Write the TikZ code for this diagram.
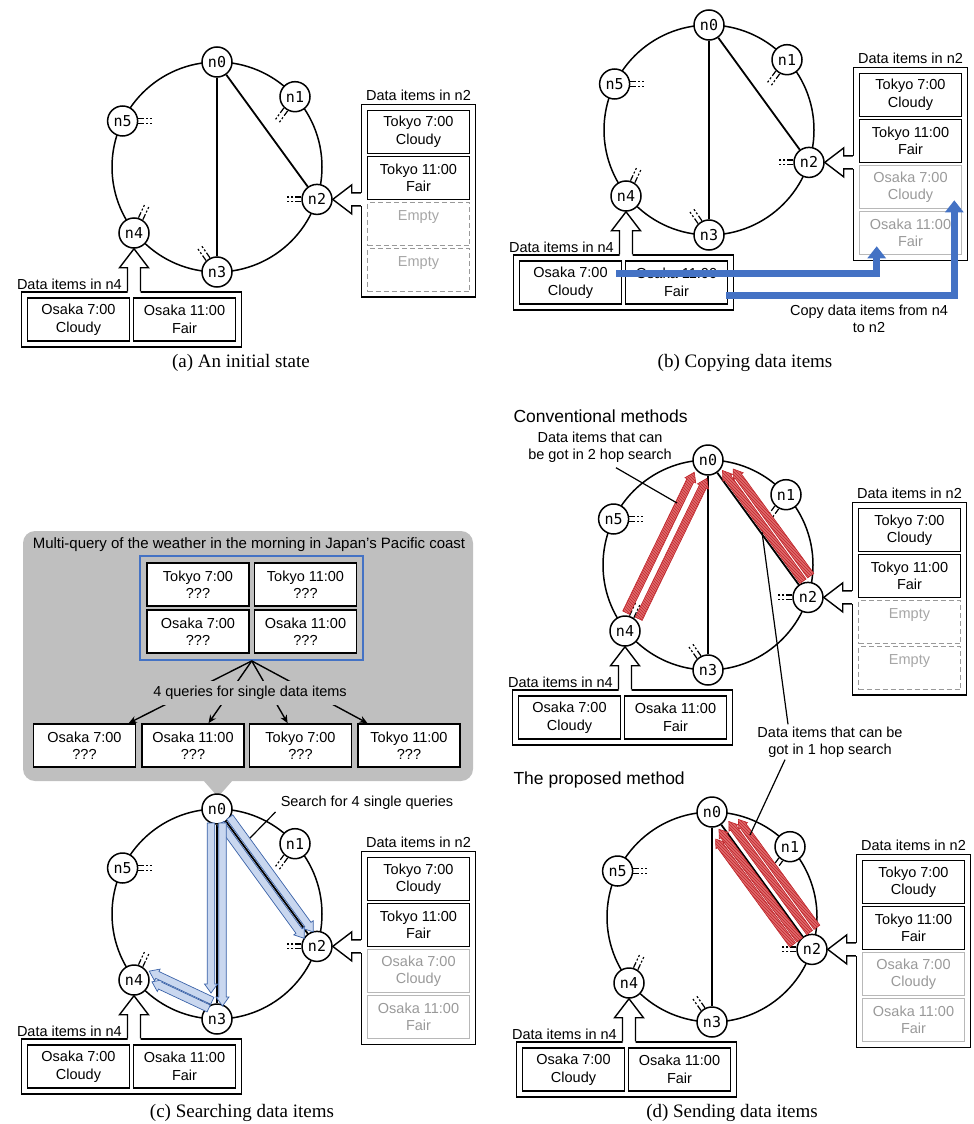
\documentclass[tikz,border=0pt]{standalone}
\usepackage{fontspec}
\setmainfont{Liberation Serif}
\setsansfont{Liberation Sans}
\setmonofont{DejaVu Sans Mono}
\usepackage{tikz}
\usetikzlibrary{arrows.meta,positioning,fit,calc,patterns}
\definecolor{qblue}{HTML}{4472C4}
\definecolor{paleblue}{HTML}{C9D7EF}
\definecolor{edgeblue}{HTML}{3A62A8}
\definecolor{hopred}{HTML}{C0282D}
\definecolor{palered}{HTML}{E06A6C}
\definecolor{bubble}{HTML}{BFBFBF}

% sizes of the hollow flow arrows
\newcommand{\flowW}{3.8pt}
\newcommand{\flowH}{6.5pt}
\newcommand{\flowL}{9pt}
% hollow arrow from node #2 to node #3, shifted sideways by #4, gaps #5/#6
\newcommand{\flow}[6][]{%
  \coordinate (fp) at ($(#2)!#5!(#3)$);
  \coordinate (fa) at ($(fp)!#4!90:(#3)$);
  \coordinate (fq) at ($(#3)!#6!(#2)$);
  \coordinate (fb) at ($(fq)!#4!-90:(#2)$);
  \coordinate (fh) at ($(fb)!\flowL!(fa)$);
  \draw[#1] ($(fa)!\flowW!90:(fb)$) -- ($(fh)!\flowW!90:(fb)$) -- ($(fh)!\flowH!90:(fb)$) -- (fb)
    -- ($(fh)!\flowH!-90:(fb)$) -- ($(fh)!\flowW!-90:(fb)$) -- ($(fa)!\flowW!-90:(fb)$) -- cycle;}
% block arrow from a box edge #1 to a node anchor #2
\newcommand{\feed}[2]{%
  \coordinate (fh) at ($(#2)!19pt!(#1)$);
  \coordinate (fx) at ($(#1)!-1.5pt!(#2)$);
  \fill[white] ($(fx)!6.5pt!90:(#2)$) -- ($(fh)!6.5pt!90:(#2)$) -- ($(fh)!14.5pt!90:(#2)$) -- (#2)
    -- ($(fh)!14.5pt!-90:(#2)$) -- ($(fh)!6.5pt!-90:(#2)$) -- ($(fx)!6.5pt!-90:(#2)$) -- cycle;
  \draw[feedline] ($(#1)!6.5pt!90:(#2)$) -- ($(fh)!6.5pt!90:(#2)$) -- ($(fh)!14.5pt!90:(#2)$) -- (#2)
    -- ($(fh)!14.5pt!-90:(#2)$) -- ($(fh)!6.5pt!-90:(#2)$) -- ($(#1)!6.5pt!-90:(#2)$);}
% finger stubs on a peer
\newcommand{\ticks}[2]{%
  \draw[finger] ($(#1.#2)!2.4pt!90:(#1.center)$) -- ++(#2:14pt);
  \draw[finger] ($(#1.#2)!2.4pt!-90:(#1.center)$) -- ++(#2:14pt);}
\newcommand{\emptyitems}[3]{%
  \node[blank] (d3#1) at (#2+418.5,#3+224) {Empty\\\mbox{}};
  \node[blank] (d4#1) at (#2+418.5,#3+270) {Empty\\\mbox{}};}
\newcommand{\copieditems}[3]{%
  \node[copied] (d3#1) at (#2+418.5,#3+224) {Osaka 7:00\\Cloudy};
  \node[copied] (d4#1) at (#2+418.5,#3+270) {Osaka 11:00\\Fair};}
% one ring with its two data stores; #1 tag, #2 lower items, #3/#4 offset
\newcommand{\chordring}[4]{%
  \draw[ring] (#3+217,#4+167) circle[radius=105pt];
  \foreach \i/\px/\py in {0/217/62,1/295/96.7,2/317/199.4,3/217/272,4/134/233,5/122.6/121}
    \node[peer] (n\i#1) at (#3+\px,#4+\py) {n\i};
  \draw[chord] (n0#1) -- (n3#1);
  \draw[chord] (n0#1) -- (n2#1);
  \foreach \i/\a in {1/234,2/180,3/125,4/65,5/0}
    {\ticks{n\i#1}{\a}}
  \node[item] (d1#1) at (#3+418.5,#4+132) {Tokyo 7:00\\Cloudy};
  \node[item] (d2#1) at (#3+418.5,#4+178) {Tokyo 11:00\\Fair};
  #2{#1}{#3}{#4}
  \node[holder,fit=(d1#1)(d4#1)] (h2#1) {};
  \node[itemtitle,above=1pt of h2#1] {Data items in n2};
  \coordinate (f2#1) at (h2#1.west |- n2#1);
  \feed{f2#1}{n2#1.east}
  \node[item] (e1#1) at (#3+78.5,#4+319.5) {Osaka 7:00\\Cloudy};
  \node[item] (e2#1) at (#3+184.5,#4+319.5) {Osaka 11:00\\Fair};
  \node[holder,fit=(e1#1)(e2#1)] (h4#1) {};
  \coordinate (f4#1) at (n4#1 |- h4#1.north);
  \feed{f4#1}{n4#1.south}
  \node[itemtitle,anchor=south east] at ($(f4#1)+(-10,0)$) {Data items in n4};}

\begin{document}
\begin{tikzpicture}[x=1pt,y=-1pt,
  font=\sffamily\fontsize{14.5}{17.5}\selectfont,
  ring/.style={line width=1.5pt},
  chord/.style={line width=1.8pt},
  peer/.style={circle,draw,fill=white,line width=1.5pt,minimum size=30pt,inner sep=0pt,
               font=\ttfamily\fontsize{15}{15}\selectfont},
  finger/.style={line width=1.2pt,dash pattern=on 6pt off 2pt on 2pt off 2pt on 2pt off 20pt},
  item/.style={draw,line width=1.8pt,minimum width=102pt,minimum height=43pt,align=center,inner sep=0pt},
  qitem/.style={item,fill=white},
  copied/.style={item,draw=black!28,text=black!40,line width=1.6pt},
  blank/.style={item,draw=black!40,text=black!35,line width=1.3pt,dash pattern=on 5pt off 3pt},
  holder/.style={draw,line width=1.4pt,inner sep=5pt},
  feedline/.style={line width=1.4pt},
  itemtitle/.style={inner sep=2pt},
  note/.style={align=center,inner sep=2pt},
  caption/.style={font=\rmfamily\fontsize{19}{22}\selectfont},
  heading/.style={font=\sffamily\fontsize{17.5}{20}\selectfont,anchor=west},
  copyarr/.style={draw=qblue,line width=7pt,-{Triangle[length=12pt,width=18pt]}},
  query/.style={line width=1.4pt,-{Stealth[length=8pt,width=7pt]}},
  leader/.style={line width=1.2pt},
  searchflow/.style={fill=paleblue,draw=edgeblue,line width=0.7pt},
  hopflow/.style={fill=palered,draw=hopred,line width=0.6pt,
                  postaction={pattern=north west lines,pattern color=hopred}}
]
\useasboundingbox (0,0) rectangle (974,1124);

% (a) initial state
\chordring{a}{\emptyitems}{0}{0}
\node[caption] at (241,363) {(a) An initial state};

% (b) copying
\chordring{b}{\copieditems}{492}{-37}
\coordinate (c1s) at ($(e1b.east)+(-6,-9.5)$);
\coordinate (c1t) at ($(d4b.south west)+(18,-9)$);
\coordinate (c2s) at ($(e2b.east)+(-2,12.5)$);
\coordinate (c2t) at ($(d3b.south east)+(-8,-9)$);
\draw[copyarr] (c1s) -| (c1t);
\draw[copyarr] (c2s) -| (c2t);
\node[note] (copynote) at (869,319) {Copy data items from n4\\to n2};
\node[caption] at (745,363) {(b) Copying data items};

% (c) searching
\fill[bubble,rounded corners=12pt] (23,531) rectangle (473,781);
\fill[bubble] (203,780) -- (218,797) -- (233,780) -- cycle;
\node[note,font=\sffamily\fontsize{15}{18}\selectfont] (mq) at (249,545)
  {Multi-query of the weather in the morning in Japan’s Pacific coast};
\node[qitem] (q1) at (198,584.5) {Tokyo 7:00\\???};
\node[qitem] (q2) at (305.5,584.5) {Tokyo 11:00\\???};
\node[qitem] (q3) at (198,631.5) {Osaka 7:00\\???};
\node[qitem] (q4) at (305.5,631.5) {Osaka 11:00\\???};
\node[draw=qblue,line width=2pt,inner sep=6pt,fit=(q1)(q4)] (qf) {};
\node[qitem] (s1) at (84.5,745.5) {Osaka 7:00\\???};
\node[qitem] (s2) at (193,745.5) {Osaka 11:00\\???};
\node[qitem] (s3) at (300.5,745.5) {Tokyo 7:00\\???};
\node[qitem] (s4) at (409,745.5) {Tokyo 11:00\\???};
\foreach \k in {1,...,4}
  \draw[query] (qf.south) -- (s\k);
\node[note,fill=bubble,inner xsep=3pt,inner ysep=5pt] (forklabel) at (250,693) {4 queries for single data items};
\chordring{c}{\copieditems}{0}{747}
\flow[searchflow]{n0c}{n2c}{5.5pt}{14pt}{14pt}
\flow[searchflow]{n0c}{n2c}{-5.5pt}{14pt}{14pt}
\flow[searchflow]{n0c}{n3c}{-6pt}{14pt}{26pt}
\flow[searchflow]{n0c}{n3c}{5.5pt}{14pt}{13pt}
\flow[searchflow]{n3c}{n4c}{-6pt}{12pt}{17pt}
\flow[searchflow]{n3c}{n4c}{-14.5pt}{12pt}{10pt}
\node[note] (searchnote) at (367,803) {Search for 4 single queries};
\coordinate (searchhit) at (250,838);
\draw[leader] ($(searchnote.south west)+(-3,0)$) -- (searchhit);
\node[caption] at (242,1113) {(c) Searching data items};

% (d) sending
\node[heading] (convhead) at (510,416) {Conventional methods};
\chordring{d}{\emptyitems}{491}{398}
\renewcommand{\flowH}{6pt}
\flow[hopflow]{n4d}{n0d}{7pt}{17pt}{17pt}
\flow[hopflow]{n4d}{n0d}{-7pt}{17pt}{17pt}
\flow[hopflow]{n2d}{n0d}{-5.5pt}{16pt}{17pt}
\flow[hopflow]{n2d}{n0d}{-15pt}{16pt}{22pt}
\node[heading] (prophead) at (510,780) {The proposed method};
\chordring{e}{\copieditems}{495}{750}
\renewcommand{\flowW}{3.6pt}
\renewcommand{\flowH}{5.5pt}
\renewcommand{\flowL}{8pt}
\flow[hopflow]{n2e}{n0e}{-17pt}{15pt}{21.5pt}
\flow[hopflow]{n2e}{n0e}{-8pt}{15pt}{17.5pt}
\flow[hopflow]{n2e}{n0e}{4.5pt}{15pt}{18pt}
\flow[hopflow]{n2e}{n0e}{13pt}{15pt}{24pt}
\node[note] (hop2) at (600,447) {Data items that can\\be got in 2 hop search};
\coordinate (hop2hit) at (677,503);
\draw[leader] ($(hop2.south)+(16,3)$) -- (hop2hit);
\node[note] (hop1) at (830,742) {Data items that can be\\got in 1 hop search};
\coordinate (hop1up) at (762,532);
\coordinate (hop1down) at (750,835);
\draw[leader] ($(hop1.north)+(-42,0)$) -- (hop1up);
\draw[leader] ($(hop1.south)+(-45,0)$) -- (hop1down);
\node[caption] at (732,1113) {(d) Sending data items};
\end{tikzpicture}
\end{document}
